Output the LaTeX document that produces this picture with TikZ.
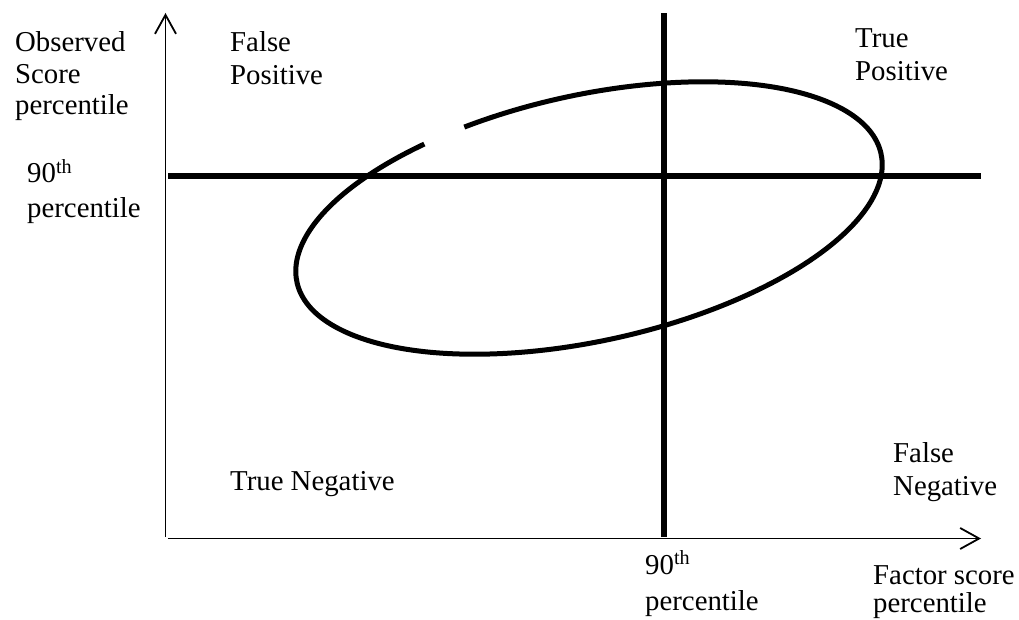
\documentclass[tikz,border=0pt]{standalone}
\usepackage{fontspec}
\setmainfont{Liberation Serif}
\usetikzlibrary{arrows.meta}
\newcommand{\lbl}[2][1]{\def\arraystretch{#1}\begin{tabular}[t]{@{}l@{}}#2\end{tabular}}
\begin{document}
\begin{tikzpicture}[x=1pt,y=1pt,
  axis/.style={line width=1.8pt,-{Straight Barb[length=19pt,width=21pt]}},
  thickline/.style={line width=6pt},
  txt/.style={anchor=base west,inner sep=0pt,font=\fontsize{28.8}{33}\selectfont}]
\useasboundingbox (0,0) rectangle (1019,619);
% coordinates
\coordinate (yb) at (165.5,82);
\coordinate (yt) at (165.5,606);
\coordinate (xl) at (168,80.5);
\coordinate (xr) at (981,80.5);
\coordinate (vt) at (664,606);
\coordinate (vb) at (664,82);
\coordinate (hl) at (168,443);
\coordinate (hr) at (981,443);
\coordinate (c) at (589,401);
% axes
\draw[axis] (yb) -- (yt);
\draw[axis] (xl) -- (xr);
% threshold lines
\draw[thickline] (vb) -- (vt);
\draw[thickline] (hl) -- (hr);
% ellipse with gap
\begin{scope}[shift={(c)},rotate=12.4]
\draw[line width=5pt] (119:299 and 123) arc[start angle=119,end angle=470,x radius=299,y radius=123];
\end{scope}
% labels
\node[txt] (obs) at (15,567) {\lbl[0.95]{Observed\\Score\\percentile}};
\node[txt] (ny) at (27,436) {\lbl[1.05]{90\textsuperscript{th}\\percentile}};
\node[txt] (fp) at (230,567) {\lbl{False\\Positive}};
\node[txt] (tp) at (855,571) {\lbl{True\\Positive}};
\node[txt] (tn) at (230,129) {True Negative};
\node[txt] (fn) at (893,157) {\lbl[1.03]{False\\Negative}};
\node[txt] (nx) at (645,45) {\lbl[1.1]{90\textsuperscript{th}\\percentile}};
\node[txt] (fs) at (873,35) {\lbl[0.82]{Factor score\\percentile}};
\end{tikzpicture}
\end{document}
